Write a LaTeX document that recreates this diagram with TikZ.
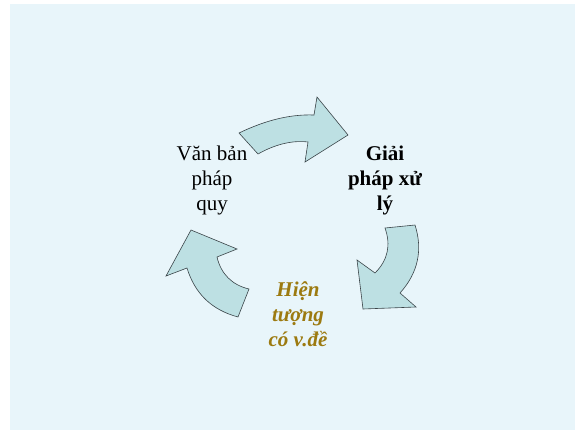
\documentclass[tikz,border=0pt]{standalone}
\usepackage{fontspec}
\setmainfont{Liberation Serif}
\definecolor{slidebg}{HTML}{E8F5FA}
\definecolor{arrowfill}{HTML}{BDE0E3}
\definecolor{arrowline}{HTML}{3A4448}
\definecolor{goldtext}{HTML}{9C7A10}
\tikzset{
  cyclearrow/.style={fill=arrowfill, draw=arrowline, line width=0.6pt, line join=miter},
  label/.style={align=center, inner sep=0pt, font=\fontsize{21}{25}\selectfont}
}
\begin{document}
\begin{tikzpicture}[x=1pt, y=-1pt]
  \useasboundingbox (0,0) rectangle (575,431);
  \fill[white] (0,0) rectangle (575,431);
  \fill[slidebg] (10,4) rectangle (575,430);

  % top arrow: from the regulations towards the solutions
  \draw[cyclearrow] (239,133) .. controls (262,122) and (287,114) .. (314,115)
    -- (317,97) -- (348,135) -- (305,162) -- (308,142)
    .. controls (291,140) and (274,145) .. (258,154) -- cycle;

  % right arrow: from the solutions down towards the phenomenon
  \draw[cyclearrow] (385,228) -- (415,225)
    .. controls (423,250) and (418,273) .. (400,293)
    -- (416,307) -- (363,309) -- (357,260) -- (375,273)
    .. controls (388,260) and (391,245) .. (385,228) -- cycle;

  % left arrow: from the phenomenon back up to the regulations
  \draw[cyclearrow] (191,230) -- (237,249) -- (217,257)
    .. controls (221,274) and (232,285) .. (249,289)
    -- (238,317)
    .. controls (212,310) and (195,294) .. (187,268)
    -- (166,276) -- cycle;

  \node[label] (vbpq) at (212,180) {Văn bản\\pháp\\quy};
  \node[label, font=\fontsize{21}{25}\selectfont\bfseries] (gpxl) at (385,180) {Giải\\pháp xử\\lý};
  \node[label, text=goldtext, font=\fontsize{21}{25}\selectfont\bfseries\itshape] (htvd) at (298,314) {Hiện\\tượng\\có v.đề};
\end{tikzpicture}
\end{document}
